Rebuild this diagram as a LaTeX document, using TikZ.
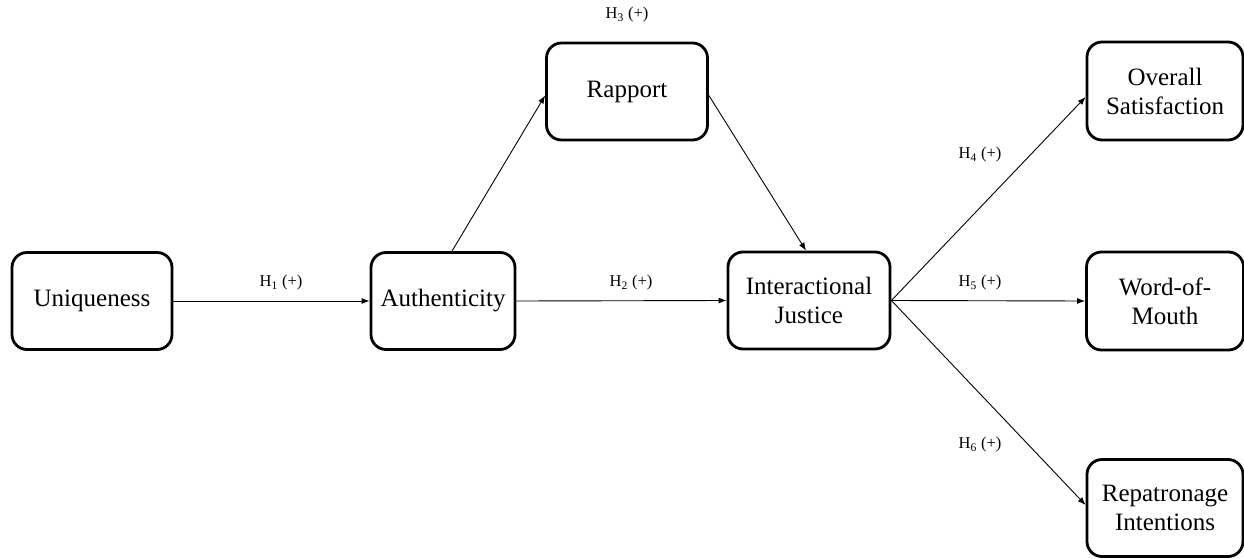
\documentclass[tikz,border=0pt]{standalone}
\usepackage{fontspec}
\setmainfont{Liberation Serif}
\usetikzlibrary{arrows.meta,calc}
\begin{document}
\begin{tikzpicture}[x=1pt,y=-1pt,
  construct/.style={draw=black, line width=2.8pt, rounded corners=15pt,
    align=center, inner sep=0pt, font=\fontsize{25}{29}\selectfont},
  path/.style={draw=black, line width=0.9pt, -{Latex[length=8pt,width=6pt]}},
  hyp/.style={font=\fontsize{16.5}{19}\selectfont, inner sep=1pt}]
\useasboundingbox (0,0) rectangle (1244,559);

% constructs
\node[construct, minimum width=160pt, minimum height=97pt] (U) at (92,301) {Uniqueness};
\node[construct, minimum width=144pt, minimum height=97pt] (A) at (443,301) {Authenticity};
\node[construct, minimum width=161pt, minimum height=97pt] (R) at (627,91.5) {Rapport};
\node[construct, minimum width=162pt, minimum height=97pt] (I) at (809,300.5) {Interactional\\Justice};
\node[construct, minimum width=156pt, minimum height=98pt] (O) at (1165,91) {Overall\\Satisfaction};
\node[construct, minimum width=157pt, minimum height=98pt] (W) at (1165,301) {Word-of-\\Mouth};
\node[construct, minimum width=156pt, minimum height=97pt] (P) at (1165,508) {Repatronage\\Intentions};

% hypothesised paths
\draw[path] (U.east) -- (A.west);
\draw[path] (A.east) -- (I.west);
\draw[path] ($(A.north)+(9,0)$) -- ($(R.west)+(0,4)$);
\draw[path] ($(R.east)+(0,4)$) -- ($(I.north)+(-3,0)$);
\draw[path] (I.east) -- ($(O.west)+(0,6)$);
\draw[path] (I.east) -- (W.west);
\draw[path] (I.east) -- ($(P.west)+(0,-3)$);

% hypothesis labels
\node[hyp] (h1) at (281,283) {H\textsubscript{1} (+)};
\node[hyp] (h2) at (631,283) {H\textsubscript{2} (+)};
\node[hyp] (h3) at (627,15) {H\textsubscript{3} (+)};
\node[hyp] (h4) at (980,155) {H\textsubscript{4} (+)};
\node[hyp] (h5) at (980,283) {H\textsubscript{5} (+)};
\node[hyp] (h6) at (980,445) {H\textsubscript{6} (+)};
\end{tikzpicture}
\end{document}
